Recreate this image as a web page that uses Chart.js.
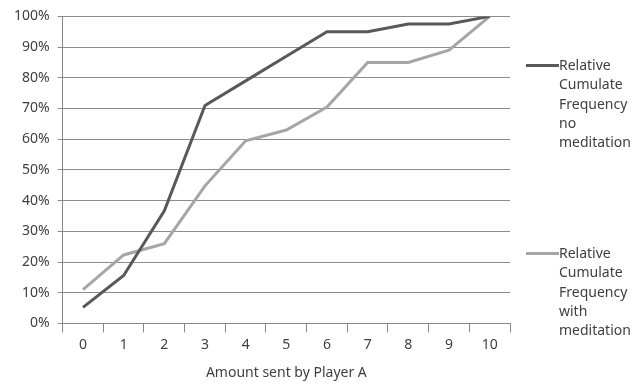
<!DOCTYPE html>
<html>
<head>
<meta charset="utf-8">
<script src="https://cdn.jsdelivr.net/npm/chart.js@4"></script>
<style>
  html, body { margin: 0; padding: 0; background: #fff; }
  #wrap { position: relative; width: 632px; height: 385px; }
  canvas { position: absolute; left: 0; top: 0; }
  .leg { position: absolute; font-family: "Noto Sans", sans-serif; font-size: 14px; color: #404040; line-height: 19.3px; }
  .leg span.ln { position: absolute; left: -33px; top: 9px; width: 33px; height: 3px; }
</style>
</head>
<body>
<div id="wrap">
  <canvas id="myChart" width="632" height="385"></canvas>
  <div class="leg" id="leg1" style="left:559px; top:55px;"><span class="ln" style="background:#595959"></span></div>
  <div class="leg" id="leg2" style="left:559px; top:243px;"><span class="ln" style="background:#a6a6a6"></span></div>
</div>
<script>
// amount sent by player A
let labels = ["0", "1", "2", "3", "4", "5", "6", "7", "8", "9", "10"];
// relative cumulative frequency, in %
let noMeditation = [5.2, 15.6, 36.7, 71, 79, 87, 95, 95, 97.5, 97.5, 100];
let withMeditation = [11, 22.3, 26, 44.8, 59.5, 63, 70.5, 85, 85, 89, 100];
let seriesNames = [
    ["Relative", "Cumulate", "Frequency", "no", "meditation"],
    ["Relative", "Cumulate", "Frequency", "with", "meditation"]
];

// legend text
["leg1", "leg2"].forEach(function(id, i){
    let box = document.getElementById(id);
    seriesNames[i].forEach(function(t){
        let d = document.createElement("div");
        d.textContent = t;
        box.appendChild(d);
    });
});

let ctx = document.getElementById('myChart').getContext('2d');
let myChart = new Chart(ctx, {
    type: "line",
    data: {
        labels: labels,
        datasets: [
            {
                label: seriesNames[0].join(" "),
                data: noMeditation,
                borderColor: "#595959",
                borderWidth: 3,
                pointRadius: 0,
                tension: 0
            },
            {
                label: seriesNames[1].join(" "),
                data: withMeditation,
                borderColor: "#a6a6a6",
                borderWidth: 3,
                pointRadius: 0,
                tension: 0
            }
        ]
    },
    options: {
        responsive: false,
        animation: false,
        layout: { padding: { left: 6, right: 122, top: 11, bottom: 0 } },
        plugins: { legend: { display: false }, tooltip: { enabled: false } },
        scales: {
            x: {
                offset: true,
                grid: { offset: true, drawOnChartArea: false, tickLength: 9, color: "#888888" },
                border: { color: "#888888" },
                ticks: { color: "#404040", font: { family: "Noto Sans", size: 14 }, padding: 4 },
                title: { display: true, text: "Amount sent by Player A", color: "#404040", font: { family: "Noto Sans", size: 14 }, padding: { top: 7 } }
            },
            y: {
                min: 0,
                max: 100,
                grid: { color: "#8c8c8c", tickLength: 5 },
                border: { color: "#888888" },
                ticks: {
                    stepSize: 10,
                    color: "#404040",
                    font: { family: "Noto Sans", size: 14 },
                    padding: 8,
                    callback: function(v){ return v + "%"; }
                }
            }
        }
    }
});
</script>
</body>
</html>
